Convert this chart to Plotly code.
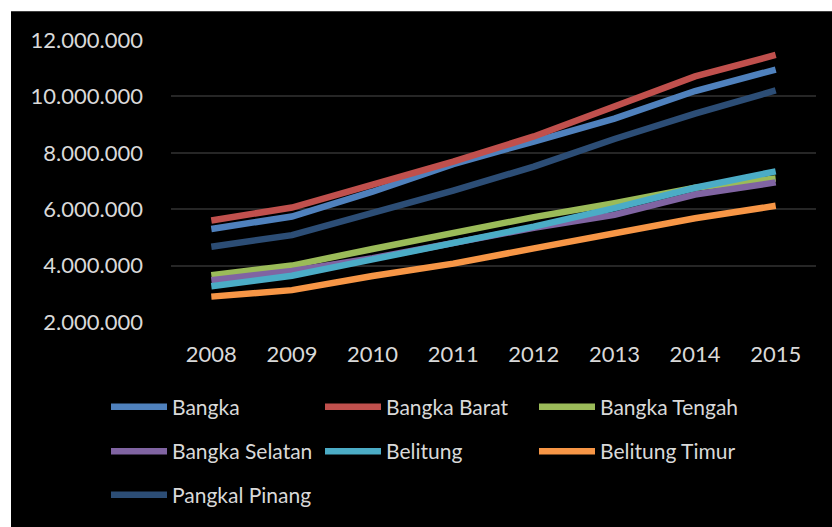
import plotly.graph_objects as go

years = ["2008", "2009", "2010", "2011", "2012", "2013", "2014", "2015"]

bangka = [5300000, 5740000, 6620000, 7600000, 8400000, 9210000, 10190000, 10950000]
bangka_barat = [5600000, 6060000, 6870000, 7690000, 8580000, 9660000, 10710000, 11470000]
bangka_tengah = [3660000, 4000000, 4590000, 5160000, 5720000, 6210000, 6760000, 7090000]
bangka_selatan = [3480000, 3810000, 4260000, 4810000, 5340000, 5800000, 6520000, 6950000]
belitung = [3270000, 3640000, 4220000, 4800000, 5380000, 6040000, 6760000, 7340000]
belitung_timur = [2900000, 3130000, 3630000, 4070000, 4610000, 5160000, 5680000, 6120000]
pangkal_pinang = [4670000, 5080000, 5870000, 6660000, 7510000, 8490000, 9390000, 10210000]

series_names = ["Bangka", "Bangka Barat", "Bangka Tengah", "Bangka Selatan",
                "Belitung", "Belitung Timur", "Pangkal Pinang"]
series_values = [bangka, bangka_barat, bangka_tengah, bangka_selatan,
                 belitung, belitung_timur, pangkal_pinang]
colors = ["#4F81BD", "#C0504D", "#9BBB59", "#8064A2", "#4BACC6", "#F79646", "#2C4D75"]
legend_ids = ["legend", "legend", "legend", "legend2", "legend2", "legend2", "legend3"]

FONT = "Lato"
TXT = "#D9D9D9"
FS = 22

fig = go.Figure()
for name, vals, col, lg in zip(series_names, series_values, colors, legend_ids):
    fig.add_trace(go.Scatter(x=years, y=vals, name=name, mode="lines",
                             line=dict(color=col, width=6.5), legend=lg))

L, T = 171, 40
W, H = 645, 285
FW, FH = 832, 527

def legend_cfg(ypix):
    return dict(orientation="h", x=(106 - L) / W, xanchor="left",
                y=(T + H - ypix) / H, yanchor="middle",
                font=dict(family=FONT, size=FS - 1, color=TXT),
                bgcolor="rgba(0,0,0,0)", itemwidth=56,
                entrywidth=143, entrywidthmode="pixels", traceorder="normal")

fig.update_layout(
    width=FW, height=FH,
    margin=dict(l=L, r=FW - L - W, t=T, b=FH - T - H, pad=0),
    paper_bgcolor="white", plot_bgcolor="black",
    separators=",.",
    font=dict(family=FONT, size=FS, color=TXT),
    showlegend=True,
    legend=legend_cfg(411),
    legend2=legend_cfg(456),
    legend3=legend_cfg(500),
    xaxis=dict(type="category", range=[-0.5, 7.5], showgrid=False, zeroline=False,
               showline=False, ticks="", tickfont=dict(family=FONT, size=FS, color=TXT),
               ticklabelstandoff=17),
    yaxis=dict(range=[2000000, 12000000], tickvals=[2000000, 4000000, 6000000, 8000000, 10000000, 12000000],
               tickformat=",d", showgrid=True, gridcolor="#262626", gridwidth=2,
               zeroline=False, showline=False, ticks="",
               tickfont=dict(family=FONT, size=FS, color=TXT), ticklabelstandoff=27),
    shapes=[dict(type="rect", xref="paper", yref="paper", layer="below",
                 x0=(11 - L) / W, x1=(FW + 20 - L) / W,
                 y0=(T + H - (FH + 20)) / H, y1=(T + H - 11) / H,
                 fillcolor="black", line=dict(width=0))],
)

fig.write_html("out.html")
